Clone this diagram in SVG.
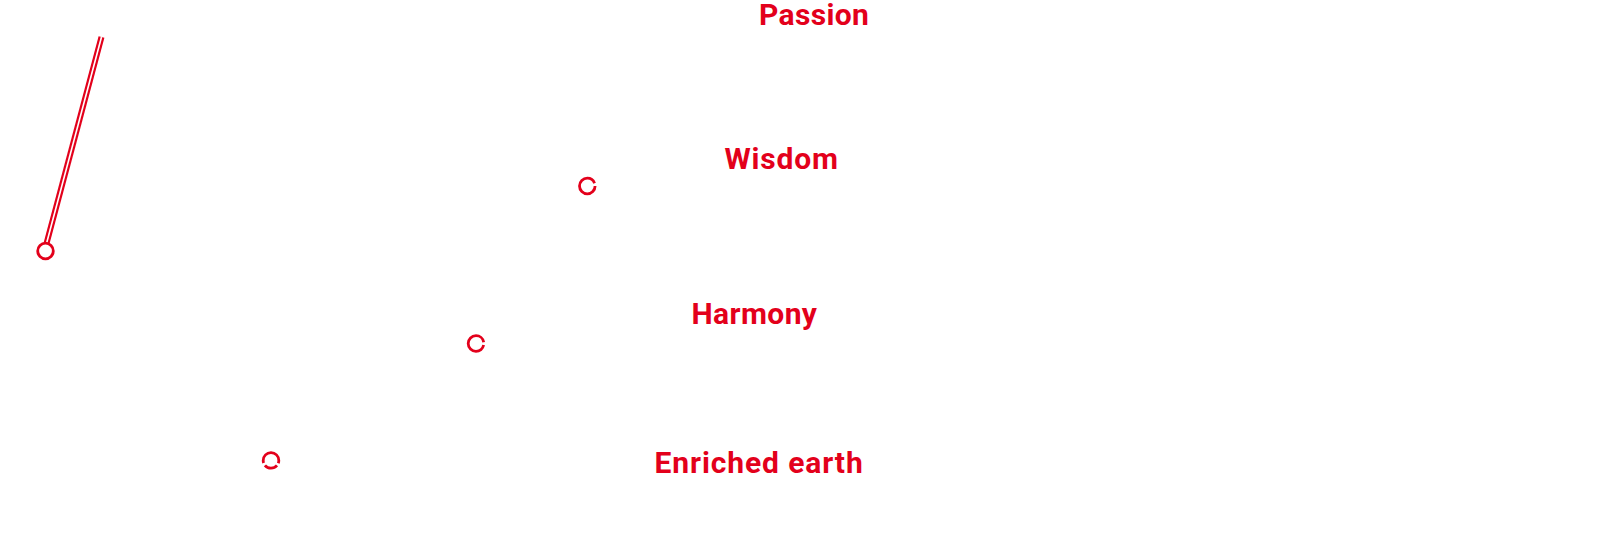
<svg xmlns="http://www.w3.org/2000/svg" width="1602" height="559" viewBox="0 0 1602 559">
<style>
.lbl{font-family:Roboto,"Liberation Sans",sans-serif;font-weight:700;font-size:30px;fill:#E3001B}
.dot{fill:none;stroke:#E3001B;stroke-width:2.8}
</style>
<rect width="1602" height="559" fill="#fff"/>
<g id="connectors">
<path d="M101.5 37 L46.5 243.5" fill="none" stroke="#E3001B" stroke-width="6"/>
<path d="M101.5 37 L46.5 243.5" fill="none" stroke="#fff" stroke-width="1.6"/>
</g>
<g id="start"><circle class="dot" cx="45.5" cy="251" r="7.8"/></g>
<g id="passion"><text class="lbl" x="759" y="24.5" letter-spacing="0.35">Passion</text></g>
<g id="wisdom"><text class="lbl" x="724.5" y="168.7" letter-spacing="0.8">Wisdom</text><circle class="dot" cx="587.3" cy="186" r="7.8" stroke-dasharray="45.8 3.2"/></g>
<g id="harmony"><text class="lbl" x="691.5" y="324.3" letter-spacing="0.4">Harmony</text><circle class="dot" cx="476" cy="343.5" r="7.8" stroke-dasharray="45.8 3.2" stroke-dashoffset="-1.6"/></g>
<g id="enriched-earth"><text class="lbl" x="654.5" y="472.7" letter-spacing="0.9">Enriched earth</text><circle class="dot" cx="271" cy="460.4" r="7.8" stroke-dasharray="2.8 2.6 13.7 2.6 27.3 0"/></g>
</svg>
